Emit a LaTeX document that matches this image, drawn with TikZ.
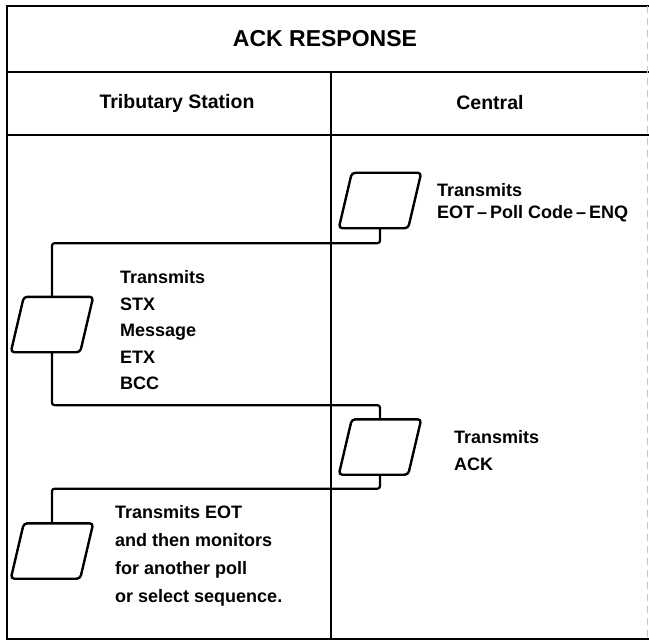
\documentclass[tikz,border=0pt]{standalone}
\usepackage{fontspec}
\setmainfont{Liberation Sans}
\tikzset{
  frameline/.style={line width=2pt, line cap=round},
  pbox/.style={shape=rectangle, minimum width=69pt, minimum height=55pt, inner sep=0pt},
  boxline/.style={line width=2.4pt, rounded corners=3.5pt},
  conn/.style={line width=2.2pt, rounded corners=2.5pt},
  bodytext/.style={inner sep=0pt, anchor=base west, align=left,
    font=\bfseries\fontsize{18}{#1}\selectfont},
  headtext/.style={inner sep=0pt, font=\bfseries\fontsize{19.5}{22}\selectfont},
}
\begin{document}
\begin{tikzpicture}[x=1pt, y=-1pt]
\useasboundingbox (0,0) rectangle (649,642);
% frame
\draw[frameline] (649,6) -- (7,6) -- (7,639) -- (649,639);
\draw[frameline] (7,72) -- (649,72);
\draw[frameline] (7,135) -- (649,135);
\draw[line width=1.8pt] (331,72) -- (331,639);
\draw[gray!45, line width=0.8pt, dash pattern=on 7pt off 5pt] (647,6) -- (647,639);
% headings
\node[inner sep=0pt, font=\bfseries\fontsize{23}{26}\selectfont] (title) at (325,38.5) {ACK RESPONSE};
\node[headtext] (trib) at (177,103) {Tributary Station};
\node[headtext] (central) at (490,103) {Central};
% boxes
\node[pbox] (b1) at (380,200.5) {};
\node[pbox] (b2) at (52,324.5) {};
\node[pbox] (b3) at (380,447) {};
\node[pbox] (b4) at (52,551) {};
\foreach \n in {b1,b2,b3,b4}
  \draw[boxline] ([xshift=-6.5pt]\n.south west) -- ([xshift=-6.5pt]\n.south east)
    -- ([xshift=6.5pt]\n.north east) -- ([xshift=6.5pt]\n.north west) -- cycle;
% connectors
\draw[conn] (b1.south) -- ++(0,15) -| (b2.north);
\draw[conn] (b2.south) -- ++(0,53) -| (b3.north);
\draw[conn] (b3.south) -- ++(0,14) -| (b4.north);
% texts (base anchor = baseline of the last line)
\node[bodytext=22] (t1) at (437,218.5) {Transmits\\EOT\,–\,Poll Code\,–\,ENQ};
\node[bodytext=26.5] (t2) at (120,389.5) {Transmits\\STX\\Message\\ETX\\BCC};
\node[bodytext=27] (t3) at (454,470) {Transmits\\ACK};
\node[bodytext=28] (t4) at (115,602.5) {Transmits EOT\\and then monitors\\for another poll\\or select sequence.};
\end{tikzpicture}
\end{document}
